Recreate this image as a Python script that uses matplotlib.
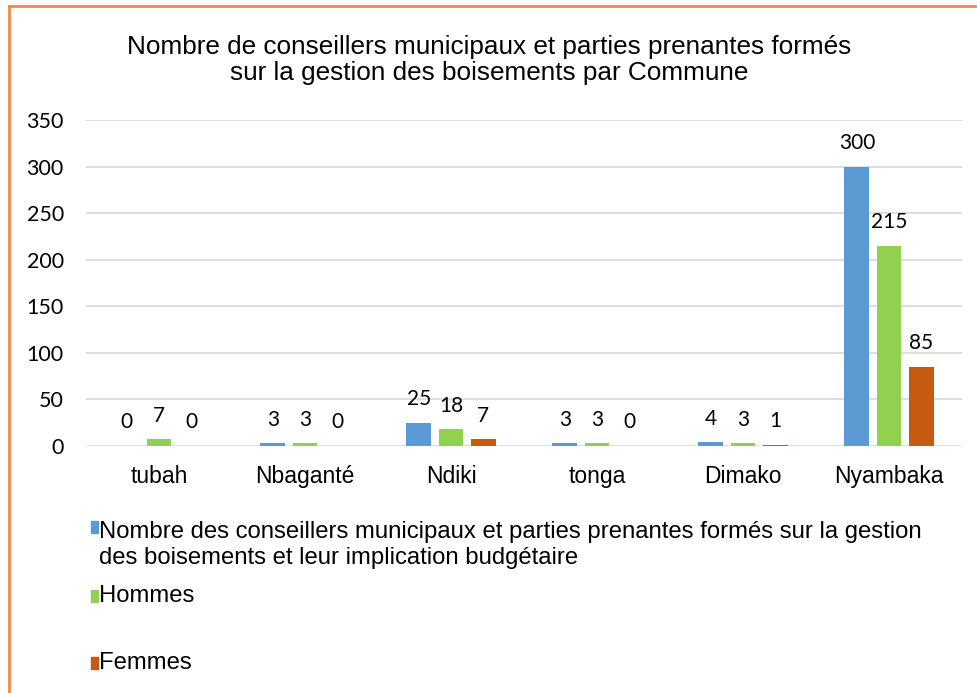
import matplotlib.pyplot as plt
import numpy as np
from matplotlib.patches import Rectangle
from matplotlib.lines import Line2D

communes = ["tubah", "Nbaganté", "Ndiki", "tonga", "Dimako", "Nyambaka"]
total = [0, 3, 25, 3, 4, 300]
hommes = [7, 3, 18, 3, 3, 215]
femmes = [0, 0, 7, 0, 1, 85]

series_names = [
    "Nombre des conseillers municipaux et parties prenantes formés sur la gestion\ndes boisements et leur implication budgétaire",
    "Hommes",
    "Femmes",
]
colors = ["#5B9BD5", "#92D050", "#C55A11"]
title = "Nombre de conseillers municipaux et parties prenantes formés\nsur la gestion des boisements par Commune"

W, H = 978, 693
fig = plt.figure(figsize=(W / 100, H / 100), dpi=100)
ax = fig.add_axes([86 / W, 1 - 446 / H, (962 - 86) / W, (446 - 120) / H])

x = np.arange(len(communes))
width = 0.171
step = 0.22
for i, (vals, color) in enumerate(zip([total, hommes, femmes], colors)):
    pos = x + (i - 1) * step
    ax.bar(pos, vals, width=width, color=color, zorder=3)
    for p, v in zip(pos, vals):
        ax.annotate(str(v), (p, v), xytext=(0, 17), textcoords="offset points",
                    ha="center", va="center", fontsize=15, family="Lato", color="#000000")

ax.set_ylim(0, 350)
ax.set_xlim(-0.5, len(communes) - 0.5)
ax.set_yticks(np.arange(0, 351, 50))
ax.set_xticks(x, communes)
ax.grid(axis="y", color="#d9d9d9", linewidth=1.2, zorder=0)
for s in ax.spines.values():
    s.set_visible(False)
ax.tick_params(length=0)
ax.tick_params(axis="y", pad=16, labelsize=15.5)
ax.tick_params(axis="x", pad=14, labelsize=16.5)
for lbl in ax.get_yticklabels():
    lbl.set_family("Lato")
for lbl in ax.get_xticklabels():
    lbl.set_family("Liberation Sans")

fig.text(0.5, 1 - 60 / H, title, ha="center", va="center", fontsize=18.8,
         family="Liberation Sans", linespacing=1.15)

# legend, stacked vertically under the plot
legend_y = [527, 596, 663]
for name, color, yy in zip(series_names, colors, legend_y):
    fig.patches.append(Rectangle((91 / W, 1 - (yy + 6) / H), 7 / W, 12 / H,
                                 transform=fig.transFigure, color=color))
    multi = "\n" in name
    fig.text(99 / W, 1 - (yy - 6) / H if multi else 1 - yy / H, name,
             ha="left", va="top" if multi else "center",
             fontsize=17.2, family="Liberation Sans", linespacing=1.25)

# orange frame (left and top edges visible)
fig.add_artist(Line2D([9 / W, 9 / W], [0, 1 - 6 / H], transform=fig.transFigure,
                      color="#F4884A", linewidth=2))
fig.add_artist(Line2D([9 / W, 1], [1 - 6 / H, 1 - 6 / H], transform=fig.transFigure,
                      color="#F4884A", linewidth=2))

fig.savefig("out.png", dpi=100)
